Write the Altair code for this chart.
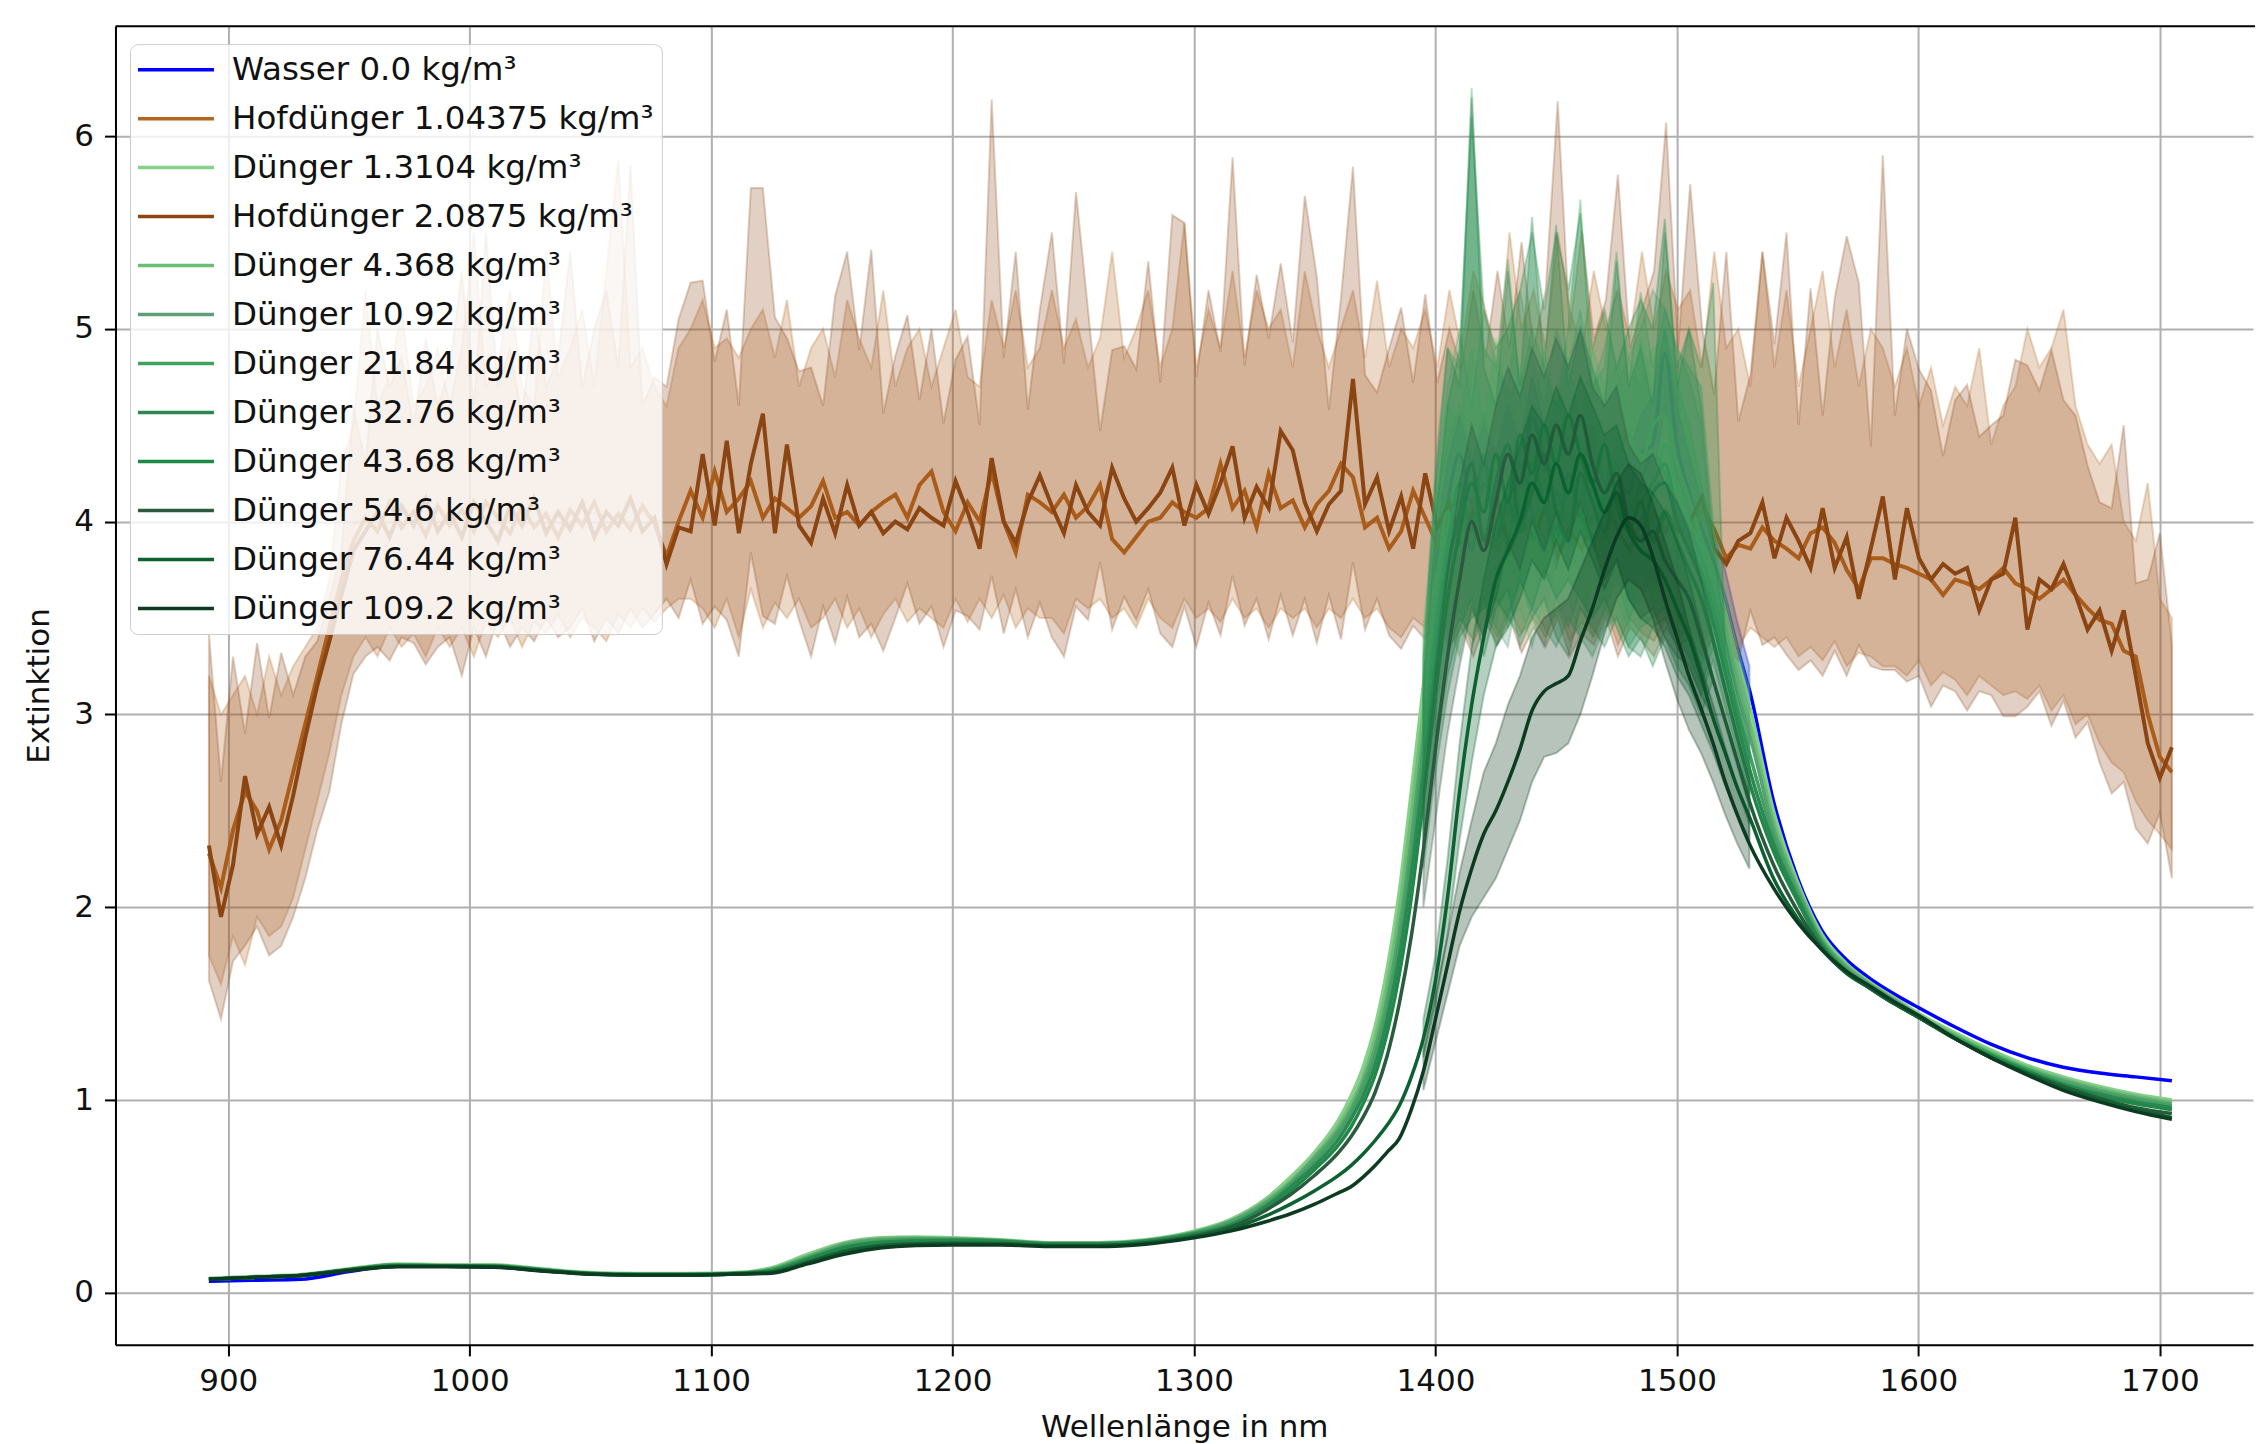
import altair as alt
import numpy as np
import pandas as pd

# ---------------- series names / colours ----------------
NAMES = [
    "Wasser 0.0 kg/m³", "Hofdünger 1.04375 kg/m³", "Dünger 1.3104 kg/m³",
    "Hofdünger 2.0875 kg/m³", "Dünger 4.368 kg/m³", "Dünger 10.92 kg/m³",
    "Dünger 21.84 kg/m³", "Dünger 32.76 kg/m³", "Dünger 43.68 kg/m³",
    "Dünger 54.6 kg/m³", "Dünger 76.44 kg/m³", "Dünger 109.2 kg/m³",
]
COLORS = [
    "#0000ff", "#b5651d", "#86d08a", "#8b4513", "#6bbf73", "#5e9f78",
    "#3ea35f", "#2f8655", "#1f8a48", "#2b5a3e", "#0b6130", "#0c3b22",
]

# ---------------- Hofdünger (manure) spectra ----------------
WL_H = np.round(np.linspace(892, 1705, 164), 2)

H1_MEAN = [
    2.28, 2.1, 2.4, 2.6, 2.5, 2.3, 2.45, 2.7, 2.95, 3.2,
    3.45, 3.7, 3.9, 4.02, 3.95, 4.1, 3.97, 4.05, 3.93, 4.08,
    3.98, 4.06, 3.95, 4.1, 4.02, 3.94, 4.08, 3.97, 4.04, 3.92,
    4.06, 3.98, 4.1, 3.95, 4.04, 3.96, 4.08, 3.99, 3.82, 4.0,
    4.16, 4.02, 4.26, 4.05, 4.12, 4.21, 4.02, 4.12, 4.07, 4.02,
    4.08, 4.21, 4.02, 4.05, 3.98, 4.05, 4.1, 4.14, 4.02, 4.19,
    4.26, 4.05, 3.95, 4.1, 4.0, 4.26, 4.0, 3.84, 4.14, 4.1,
    4.05, 4.14, 4.02, 4.08, 4.19, 3.91, 3.84, 3.92, 4.0, 4.02,
    4.1, 4.05, 4.02, 4.07, 4.3, 4.07, 4.16, 3.97, 4.25, 4.07,
    4.11, 3.97, 4.09, 4.16, 4.3, 4.23, 3.97, 4.02, 3.86, 3.95,
    4.16, 4.02, 3.88, 4.05, 3.95, 4.1, 3.92, 3.85, 4.06, 3.95,
    4.02, 3.9, 4.08, 3.96, 3.86, 4.04, 3.92, 4.1, 3.98, 3.9,
    4.05, 3.95, 4.08, 3.9, 4.07, 3.96, 3.81, 3.88, 3.86, 3.97,
    3.9, 3.86, 3.81, 3.94, 3.97, 3.89, 3.75, 3.65, 3.81, 3.81,
    3.78, 3.76, 3.73, 3.7, 3.62, 3.7, 3.68, 3.65, 3.7, 3.76,
    3.68, 3.65, 3.6, 3.65, 3.7, 3.62, 3.55, 3.49, 3.47, 3.33,
    3.3, 3.0, 2.78, 2.7,
]
H1_UP = [
    3.2, 3.0, 3.1, 3.2, 3.0, 3.3, 3.1, 3.25, 3.35, 3.45,
    3.7, 4.3, 4.5, 5.2, 4.6, 4.75, 5.1, 4.6, 4.7, 4.9,
    4.6, 4.9, 5.5, 4.7, 4.8, 5.2, 4.7, 4.6, 5.4, 4.75,
    4.9, 5.1, 4.7, 5.3, 5.88, 4.8, 4.9, 4.7, 4.6, 4.9,
    5.0, 5.15, 4.9, 4.95, 4.85, 5.0, 5.1, 4.85, 5.15, 4.7,
    4.9, 5.0, 4.75, 5.15, 4.95, 4.8, 5.2, 4.7, 4.9, 5.0,
    4.7, 4.9, 5.1, 4.75, 4.7, 5.15, 4.9, 5.2, 4.8, 4.9,
    5.2, 4.9, 5.05, 4.8, 4.95, 5.4, 4.85, 5.0, 5.2, 4.8,
    5.0, 5.55, 4.8, 5.1, 4.9, 5.3, 4.85, 5.2, 5.0, 5.1,
    4.8, 5.3, 5.0, 4.8, 5.0, 5.2, 4.85, 5.25, 4.8, 5.0,
    4.9, 5.1, 4.8, 5.2, 4.9, 5.3, 5.1, 4.8, 5.5, 5.0,
    5.2, 4.9, 5.5, 5.1, 4.9, 5.3, 5.0, 5.2, 4.95, 5.4,
    5.0, 5.3, 5.1, 5.2, 4.8, 5.4, 4.9, 5.0, 4.7, 5.4,
    4.8, 5.2, 4.7, 5.0, 5.3, 4.8, 5.1, 4.7, 5.0, 4.9,
    4.7, 4.9, 4.6, 4.8, 4.5, 4.7, 4.6, 4.9, 4.4, 4.6,
    4.7, 5.0, 4.8, 4.9, 5.1, 4.6, 4.4, 4.3, 4.4, 4.0,
    3.9, 4.2, 3.6, 3.5,
]
H1_LO = [
    1.75, 1.6, 1.85, 1.7, 1.95, 1.85, 1.9, 2.05, 2.3, 2.55,
    2.8, 3.1, 3.3, 3.4, 3.3, 3.45, 3.35, 3.42, 3.3, 3.45,
    3.35, 3.45, 3.3, 3.48, 3.4, 3.5, 3.35, 3.48, 3.42, 3.52,
    3.4, 3.5, 3.45, 3.38, 3.52, 3.45, 3.55, 3.48, 3.55, 3.6,
    3.6, 3.55, 3.45, 3.6, 3.4, 3.65, 3.45, 3.58, 3.5, 3.6,
    3.45, 3.5, 3.6, 3.45, 3.55, 3.4, 3.52, 3.6, 3.48, 3.55,
    3.5, 3.45, 3.6, 3.48, 3.6, 3.5, 3.62, 3.45, 3.55, 3.5,
    3.5, 3.42, 3.6, 3.55, 3.6, 3.5, 3.55, 3.45, 3.6, 3.5,
    3.45, 3.6, 3.5, 3.55, 3.48, 3.6, 3.5, 3.55, 3.45, 3.55,
    3.5, 3.55, 3.45, 3.55, 3.5, 3.6, 3.5, 3.55, 3.45, 3.4,
    3.5, 3.45, 3.55, 3.4, 3.5, 3.38, 3.52, 3.4, 3.55, 3.42,
    3.5, 3.4, 3.55, 3.38, 3.48, 3.4, 3.55, 3.36, 3.5, 3.42,
    3.38, 3.5, 3.4, 3.45, 3.35, 3.48, 3.4, 3.35, 3.45, 3.4,
    3.35, 3.4, 3.3, 3.35, 3.28, 3.38, 3.25, 3.32, 3.3, 3.25,
    3.25, 3.2, 3.28, 3.15, 3.22, 3.18, 3.1, 3.2, 3.15, 3.1,
    3.12, 3.08, 3.15, 3.02, 3.1, 2.95, 3.0, 2.85, 2.75, 2.7,
    2.55, 2.45, 2.38, 2.3,
]
H2_MEAN = [
    2.32, 1.95, 2.22, 2.68, 2.38, 2.52, 2.32, 2.58, 2.88, 3.15,
    3.38, 3.62, 3.85, 3.95, 4.05, 3.92, 4.08, 3.98, 4.12, 3.95,
    4.05, 3.92, 4.1, 4.0, 3.9, 4.08, 3.98, 4.12, 3.94, 4.05,
    3.96, 4.1, 3.92, 4.05, 3.98, 4.12, 3.95, 4.02, 3.78, 3.97,
    3.95, 4.35, 3.98, 4.42, 3.94, 4.3, 4.56, 3.94, 4.4, 3.98,
    3.89, 4.12, 3.94, 4.19, 3.98, 4.05, 3.94, 4.0, 3.96, 4.07,
    4.02, 3.98, 4.21, 4.05, 3.86, 4.33, 4.0, 3.89, 4.1, 4.24,
    4.08, 3.94, 4.19, 4.05, 3.98, 4.28, 4.12, 4.0, 4.07, 4.15,
    4.28, 3.98, 4.19, 4.04, 4.2, 4.39, 4.02, 4.18, 4.07, 4.47,
    4.37, 4.1, 3.95, 4.09, 4.16, 4.74, 4.09, 4.23, 3.95, 4.13,
    3.86, 4.25, 3.97, 4.1, 3.88, 4.05, 3.9, 4.12, 3.85, 4.0,
    3.92, 4.08, 3.82, 3.98, 4.05, 3.88, 4.1, 3.95, 3.85, 4.02,
    3.9, 4.05, 3.95, 4.0, 4.13, 3.86, 3.78, 3.9, 3.94, 4.1,
    3.81, 4.02, 3.9, 3.76, 4.07, 3.76, 3.92, 3.6, 3.86, 4.13,
    3.7, 4.07, 3.81, 3.7, 3.78, 3.73, 3.76, 3.54, 3.7, 3.73,
    4.02, 3.44, 3.7, 3.65, 3.78, 3.62, 3.44, 3.54, 3.33, 3.54,
    3.2, 2.85, 2.67, 2.83,
]
H2_UP = [
    3.42, 2.65, 3.3, 2.9, 3.37, 2.98, 3.32, 3.1, 3.3, 3.38,
    3.6, 3.85, 4.6, 4.3, 5.0, 4.7, 4.85, 4.5, 4.95, 4.6,
    4.8, 5.3, 4.6, 5.5, 4.7, 4.9, 4.55, 5.1, 4.7, 4.85,
    5.4, 4.7, 5.0, 5.2, 4.8, 5.85, 4.6, 4.75, 4.7, 5.05,
    5.24, 5.25, 4.83, 5.1, 4.6, 5.73, 5.73, 5.06, 4.95, 4.78,
    4.8, 4.6, 5.17, 5.4, 4.89, 5.41, 4.56, 4.86, 5.07, 4.63,
    5.0, 4.51, 4.84, 4.96, 4.5, 6.19, 4.85, 5.4, 4.58, 5.1,
    5.5, 4.82, 5.71, 5.1, 4.47, 4.89, 4.91, 4.79, 5.35, 4.72,
    5.59, 5.55, 4.75, 5.2, 4.88, 5.89, 4.81, 5.28, 4.95, 5.34,
    4.93, 5.69, 5.27, 4.58, 5.16, 5.84, 4.76, 4.67, 4.9, 5.11,
    4.72, 5.18, 4.72, 5.0, 4.8, 5.2, 4.85, 5.3, 4.9, 5.45,
    4.9, 5.2, 6.18, 5.0, 5.51, 4.95, 5.15, 5.8, 4.9, 5.1,
    5.3, 6.07, 4.9, 5.75, 5.0, 4.66, 5.4, 4.52, 4.76, 5.4,
    4.92, 5.5, 4.5, 5.21, 4.55, 5.16, 5.48, 5.24, 4.39, 5.9,
    4.55, 5.0, 4.79, 4.68, 4.34, 4.63, 4.71, 4.44, 4.5, 4.55,
    4.84, 4.81, 4.68, 4.89, 4.63, 4.55, 4.29, 4.1, 4.07, 4.5,
    3.68, 3.7, 3.94, 3.36,
]
H2_LO = [
    1.62, 1.42, 1.72, 1.8, 1.9, 1.75, 1.8, 1.95, 2.15, 2.4,
    2.6, 2.95, 3.21, 3.3, 3.35, 3.28, 3.4, 3.37, 3.26, 3.35,
    3.4, 3.2, 3.45, 3.3, 3.5, 3.35, 3.45, 3.38, 3.5, 3.4,
    3.45, 3.55, 3.38, 3.5, 3.42, 3.55, 3.45, 3.52, 3.6, 3.5,
    3.7, 3.47, 3.56, 3.49, 3.3, 3.84, 3.51, 3.47, 3.72, 3.49,
    3.3, 3.56, 3.37, 3.61, 3.4, 3.47, 3.33, 3.5, 3.68, 3.47,
    3.56, 3.35, 3.54, 3.51, 3.44, 3.72, 3.42, 3.65, 3.4, 3.58,
    3.4, 3.3, 3.56, 3.49, 3.79, 3.44, 3.61, 3.49, 3.65, 3.42,
    3.35, 3.56, 3.35, 3.58, 3.41, 3.72, 3.46, 3.6, 3.39, 3.62,
    3.41, 3.6, 3.37, 3.62, 3.39, 3.79, 3.44, 3.6, 3.41, 3.34,
    3.46, 3.39, 3.5, 3.35, 3.45, 3.3, 3.48, 3.36, 3.5, 3.32,
    3.45, 3.35, 3.5, 3.3, 3.42, 3.36, 3.5, 3.3, 3.45, 3.38,
    3.3, 3.45, 3.35, 3.4, 3.3, 3.42, 3.36, 3.28, 3.54, 3.36,
    3.4, 3.31, 3.23, 3.28, 3.2, 3.33, 3.2, 3.36, 3.25, 3.23,
    3.23, 3.17, 3.2, 3.04, 3.15, 3.12, 3.02, 3.12, 3.1, 2.99,
    2.99, 3.04, 3.12, 2.94, 3.07, 2.88, 2.96, 2.75, 2.59, 2.65,
    2.41, 2.33, 2.49, 2.15,
]

# ---------------- Water / Dünger (fertiliser) spectra ----------------
G_WL = [892, 910, 930, 950, 970, 990, 1010, 1030, 1050, 1070, 1090, 1110,
        1125, 1140, 1155, 1170, 1185, 1200, 1220, 1240, 1260, 1280, 1300,
        1315, 1330, 1340, 1350, 1360, 1365, 1370, 1375, 1380, 1385, 1390,
        1395, 1400, 1405, 1410, 1415, 1420, 1425, 1430, 1435, 1440, 1445,
        1450, 1455, 1460, 1465, 1470, 1475, 1480, 1485, 1490, 1495, 1500,
        1505, 1510, 1515, 1520, 1525, 1530, 1540, 1550, 1560, 1570, 1580,
        1590, 1600, 1615, 1630, 1645, 1660, 1675, 1690, 1705]

WASSER = [0.06, 0.065, 0.07, 0.11, 0.14, 0.14, 0.135, 0.115, 0.1, 0.095, 0.095, 0.1,
          0.115, 0.17, 0.23, 0.26, 0.27, 0.27, 0.265, 0.255, 0.255, 0.27, 0.31,
          0.37, 0.47, 0.58, 0.7, 0.86, 0.97, 1.1, 1.3, 1.57, 1.94, 2.42, 2.98, 3.7,
          4.1, 4.35, 4.1, 4.3, 4.15, 4.4, 4.2, 4.54, 4.3, 3.96, 4.25, 4.1, 4.3, 4.0,
          4.2, 4.15, 4.35, 4.4, 4.87, 4.4, 4.15,
          3.97, 3.8, 3.6, 3.35, 3.13,
          2.55, 2.15, 1.88, 1.73, 1.63, 1.55, 1.48, 1.38, 1.29, 1.22, 1.17, 1.14, 1.12, 1.1]
D1 = [0.075, 0.085, 0.095, 0.125, 0.15, 0.145, 0.145, 0.125, 0.105, 0.1, 0.1, 0.105,
      0.13, 0.2, 0.26, 0.285, 0.29, 0.285, 0.275, 0.26, 0.26, 0.275, 0.32,
      0.38, 0.49, 0.6, 0.73, 0.9, 1.02, 1.17, 1.38, 1.68, 2.08, 2.6, 3.15, 3.7,
      3.95, 4.2, 3.9, 4.15, 3.85, 4.25, 4.05, 4.3, 3.95, 4.2, 4.35, 4.1, 4.25, 4.0,
      4.3, 4.45, 4.3, 4.5, 4.55, 4.3, 4.12,
      3.92, 3.75, 3.53, 3.28, 3.05,
      2.5, 2.13, 1.86, 1.71, 1.61, 1.53, 1.45, 1.35, 1.26, 1.18, 1.12, 1.07, 1.03, 1.0]
D4 = [0.07, 0.08, 0.09, 0.12, 0.145, 0.14, 0.14, 0.12, 0.1, 0.095, 0.095, 0.1,
      0.125, 0.19, 0.255, 0.28, 0.285, 0.28, 0.272, 0.258, 0.258, 0.272, 0.315,
      0.37, 0.48, 0.58, 0.71, 0.87, 0.98, 1.12, 1.32, 1.6, 1.98, 2.48, 3.02, 3.6,
      4.05, 3.85, 4.2, 3.95, 4.3, 4.0, 4.15, 3.9, 4.25, 4.05, 4.2, 3.95, 4.3, 4.1,
      4.2, 4.0, 4.35, 4.15, 4.4, 4.2, 4.0,
      3.88, 3.68, 3.45, 3.2, 2.97,
      2.45, 2.11, 1.84, 1.7, 1.6, 1.52, 1.44, 1.34, 1.25, 1.17, 1.11, 1.06, 1.02, 0.99]
D10 = [0.07, 0.08, 0.09, 0.12, 0.145, 0.14, 0.14, 0.12, 0.1, 0.095, 0.095, 0.1,
       0.12, 0.185, 0.25, 0.275, 0.28, 0.278, 0.27, 0.256, 0.256, 0.27, 0.312,
       0.37, 0.47, 0.57, 0.7, 0.85, 0.95, 1.09, 1.27, 1.53, 1.88, 2.35, 2.9, 3.45,
       3.9, 4.1, 3.85, 4.2, 4.0, 3.9, 4.3, 4.05, 3.85, 4.15, 4.0, 4.25, 3.9, 4.1,
       4.3, 4.05, 4.2, 4.35, 4.25, 4.1, 3.95,
       3.82, 3.62, 3.38, 3.12, 2.9,
       2.41, 2.09, 1.83, 1.69, 1.6, 1.52, 1.44, 1.33, 1.24, 1.16, 1.1, 1.05, 1.01, 0.98]
D21 = [0.07, 0.08, 0.09, 0.12, 0.145, 0.14, 0.14, 0.12, 0.1, 0.095, 0.095, 0.1,
       0.12, 0.18, 0.24, 0.268, 0.276, 0.276, 0.27, 0.255, 0.255, 0.27, 0.31,
       0.36, 0.46, 0.56, 0.68, 0.83, 0.93, 1.06, 1.23, 1.48, 1.82, 2.27, 2.82, 3.38,
       3.85, 4.2, 3.95, 4.35, 3.9, 4.1, 3.95, 4.3, 4.1, 3.9, 4.2, 4.05, 3.9, 4.15,
       4.25, 3.95, 4.1, 4.2, 4.3, 4.05, 3.9,
       3.75, 3.55, 3.3, 3.03, 2.8,
       2.37, 2.07, 1.82, 1.68, 1.59, 1.51, 1.43, 1.33, 1.24, 1.16, 1.09, 1.04, 1.0, 0.97]
D32 = [0.07, 0.08, 0.09, 0.12, 0.14, 0.14, 0.138, 0.118, 0.1, 0.095, 0.095, 0.1,
       0.115, 0.175, 0.235, 0.262, 0.27, 0.272, 0.268, 0.254, 0.254, 0.268, 0.305,
       0.35, 0.45, 0.55, 0.66, 0.8, 0.9, 1.02, 1.18, 1.42, 1.74, 2.17, 2.7, 3.25,
       3.75, 4.05, 4.3, 3.9, 4.2, 4.4, 4.0, 4.15, 4.35, 4.05, 3.9, 4.25, 4.1, 3.95,
       4.2, 4.0, 3.9, 4.15, 4.2, 4.0, 3.85,
       3.7, 3.48, 3.22, 2.96, 2.72,
       2.33, 2.05, 1.81, 1.67, 1.58, 1.5, 1.43, 1.32, 1.23, 1.15, 1.08, 1.03, 0.99, 0.96]
D43 = [0.07, 0.08, 0.09, 0.12, 0.14, 0.14, 0.138, 0.118, 0.1, 0.095, 0.095, 0.1,
       0.112, 0.17, 0.23, 0.258, 0.266, 0.268, 0.265, 0.252, 0.252, 0.266, 0.3,
       0.35, 0.44, 0.53, 0.64, 0.77, 0.86, 0.98, 1.13, 1.35, 1.65, 2.05, 2.56, 3.1,
       3.6, 3.95, 4.2, 4.05, 4.35, 4.1, 4.45, 4.25, 4.5, 4.3, 4.55, 4.35, 4.2, 4.4,
       4.1, 3.95, 4.1, 3.9, 4.05, 3.9, 3.75,
       3.6, 3.38, 3.13, 2.88, 2.65,
       2.29, 2.03, 1.8, 1.67, 1.58, 1.5, 1.43, 1.32, 1.23, 1.15, 1.08, 1.02, 0.98, 0.95]
D54 = [0.07, 0.08, 0.09, 0.118, 0.138, 0.138, 0.135, 0.115, 0.098, 0.093, 0.093, 0.098,
       0.108, 0.16, 0.215, 0.245, 0.255, 0.258, 0.256, 0.246, 0.246, 0.26, 0.295,
       0.34, 0.43, 0.51, 0.61, 0.73, 0.81, 0.91, 1.04, 1.23, 1.5, 1.85, 2.3, 2.82,
       3.3, 3.7, 4.0, 3.85, 4.1, 4.35, 4.2, 4.45, 4.3, 4.5, 4.35, 4.55, 4.3, 4.15,
       4.25, 4.0, 3.9, 3.95, 3.8, 3.7, 3.6,
       3.4, 3.18, 2.97, 2.76, 2.55,
       2.22, 1.98, 1.79, 1.66, 1.58, 1.5, 1.43, 1.32, 1.22, 1.14, 1.07, 1.01, 0.96, 0.93]
D76 = [0.07, 0.08, 0.09, 0.118, 0.138, 0.138, 0.135, 0.115, 0.098, 0.093, 0.093, 0.098,
       0.105, 0.155, 0.21, 0.24, 0.25, 0.253, 0.252, 0.244, 0.244, 0.256, 0.29,
       0.33, 0.4, 0.46, 0.53, 0.61, 0.66, 0.72, 0.79, 0.87, 0.97, 1.12, 1.32, 1.62,
       2.05, 2.6, 3.05, 3.4, 3.7, 3.85, 4.0, 4.2, 4.1, 4.3, 4.15, 4.35, 4.2, 4.05,
       4.15, 3.95, 3.85, 3.8, 3.7, 3.55, 3.4,
       3.2, 2.98, 2.8, 2.62, 2.47,
       2.15, 1.94, 1.78, 1.66, 1.58, 1.5, 1.43, 1.32, 1.22, 1.14, 1.06, 1.0, 0.95, 0.91]
D109 = [0.07, 0.08, 0.09, 0.115, 0.135, 0.135, 0.132, 0.113, 0.096, 0.092, 0.092, 0.097,
        0.102, 0.15, 0.2, 0.232, 0.245, 0.248, 0.248, 0.24, 0.24, 0.252, 0.285,
        0.32, 0.37, 0.41, 0.46, 0.52, 0.55, 0.6, 0.66, 0.73, 0.8, 0.95, 1.15, 1.42,
        1.7, 1.98, 2.2, 2.38, 2.5, 2.65, 2.82, 3.02, 3.12, 3.16, 3.2, 3.38, 3.55, 3.75,
        3.92, 4.02, 3.98, 3.82, 3.6, 3.4, 3.2,
        3.03, 2.85, 2.65, 2.48, 2.33,
        2.1, 1.92, 1.78, 1.67, 1.59, 1.51, 1.44, 1.32, 1.22, 1.13, 1.05, 0.99, 0.94, 0.9]

# spread bands of the water / fertiliser series (1395 .. 1530 nm)
B_WL = G_WL[34:62]
WASSER_UP = [3.15, 3.9, 4.3, 4.55, 4.3, 4.5, 4.35, 4.6, 4.4, 4.75, 4.5, 4.2, 4.45, 4.3,
             4.5, 4.2, 4.4, 4.35, 4.55, 4.65, 5.0, 4.6, 4.35, 4.12, 3.95, 3.75, 3.48, 3.25]
WASSER_LO = [2.8, 3.5, 3.9, 4.15, 3.9, 4.1, 3.95, 4.2, 4.0, 4.3, 4.1, 3.75, 4.05, 3.9,
             4.1, 3.8, 4.0, 3.95, 4.15, 4.2, 4.6, 4.2, 3.95, 3.8, 3.65, 3.45, 3.22, 3.02]
D1_UP = [3.45, 4.1, 4.4, 4.6, 4.35, 4.55, 4.3, 4.7, 4.45, 4.75, 4.4, 4.6, 4.8, 4.5,
         4.7, 4.45, 4.7, 4.85, 4.7, 4.9, 4.95, 4.7, 4.5, 4.2, 3.95, 3.7, 3.43, 3.18]
D1_LO = [2.85, 3.3, 3.55, 3.8, 3.5, 3.75, 3.45, 3.8, 3.65, 3.85, 3.5, 3.8, 3.9, 3.7,
         3.8, 3.6, 3.9, 4.0, 3.9, 4.1, 4.15, 3.9, 3.75, 3.6, 3.55, 3.35, 3.12, 2.92]
D4_UP = [3.4, 4.1, 4.6, 4.5, 4.9, 4.5, 4.95, 4.6, 4.8, 4.5, 4.9, 4.6, 4.85, 4.5,
         4.9, 4.7, 4.8, 4.55, 4.95, 4.7, 5.0, 4.75, 4.5, 4.2, 3.88, 3.62, 3.35, 3.1]
D4_LO = [2.65, 3.1, 3.5, 3.3, 3.6, 3.4, 3.65, 3.45, 3.55, 3.35, 3.6, 3.5, 3.6, 3.4,
         3.7, 3.5, 3.6, 3.45, 3.75, 3.6, 3.8, 3.65, 3.5, 3.4, 3.48, 3.28, 3.05, 2.84]
D10_UP = [3.3, 4.2, 4.7, 5.0, 4.6, 5.1, 4.8, 4.7, 5.2, 4.85, 4.6, 5.0, 4.8, 5.1,
          4.7, 4.9, 5.2, 4.85, 5.0, 5.2, 5.1, 4.9, 4.75, 4.5, 3.85, 3.56, 3.28, 3.03]
D10_LO = [2.5, 3.0, 3.4, 3.55, 3.35, 3.6, 3.45, 3.35, 3.7, 3.5, 3.35, 3.6, 3.45, 3.65,
          3.4, 3.55, 3.7, 3.5, 3.6, 3.7, 3.65, 3.5, 3.4, 3.25, 3.4, 3.2, 2.97, 2.77]
D21_UP = [3.3, 4.3, 4.9, 4.8, 6.25, 4.9, 4.8, 5.36, 4.7, 5.0, 4.8, 4.6, 5.0, 5.67,
          4.7, 4.8, 5.4, 4.7, 5.19, 4.8, 5.1, 4.9, 4.8, 4.7, 4.0, 3.48, 3.18, 2.93]
D21_LO = [2.4, 2.9, 3.3, 3.5, 3.4, 3.6, 3.35, 3.5, 3.4, 3.55, 3.45, 3.35, 3.5, 3.4,
          3.3, 3.45, 3.5, 3.35, 3.45, 3.5, 3.55, 3.4, 3.3, 3.15, 3.35, 3.12, 2.88, 2.67]
D32_UP = [3.2, 4.2, 4.9, 4.7, 6.2, 4.8, 4.6, 5.3, 4.7, 5.58, 4.8, 5.54, 4.7, 5.0,
          4.8, 4.6, 5.35, 4.7, 4.9, 4.6, 5.5, 4.8, 5.0, 4.6, 3.9, 3.4, 3.1, 2.85]
D32_LO = [2.3, 2.8, 3.2, 3.45, 3.6, 3.3, 3.55, 3.65, 3.35, 3.5, 3.6, 3.4, 3.3, 3.55,
          3.45, 3.35, 3.5, 3.35, 3.3, 3.45, 3.5, 3.35, 3.25, 3.1, 3.28, 3.04, 2.81, 2.59]
D43_UP = [3.1, 4.0, 4.6, 4.9, 6.1, 5.1, 4.9, 5.0, 5.2, 5.5, 5.1, 5.5, 5.2, 5.6,
          4.9, 5.1, 4.8, 5.0, 5.15, 5.0, 5.57, 4.7, 5.0, 4.8, 5.24, 3.3, 3.03, 2.78]
D43_LO = [2.2, 2.7, 3.1, 3.4, 3.5, 3.55, 3.6, 3.5, 3.7, 3.55, 3.75, 3.6, 3.7, 3.6,
          3.5, 3.6, 3.45, 3.3, 3.4, 3.25, 3.4, 3.25, 3.15, 3.0, 3.18, 2.95, 2.73, 2.52]
D54_UP = [2.6, 3.2, 3.75, 4.2, 4.5, 4.3, 4.6, 4.8, 4.65, 4.9, 4.75, 4.95, 4.8, 5.0,
          4.7, 4.6, 4.7, 4.4, 4.3, 4.35, 4.2, 4.1, 3.95, 3.7, 3.4, 3.15, 2.9, 2.67]
D54_LO = [2.0, 2.45, 2.9, 3.25, 3.55, 3.4, 3.6, 3.9, 3.75, 4.0, 3.85, 4.05, 3.9, 4.1,
          3.9, 3.7, 3.8, 3.6, 3.5, 3.55, 3.4, 3.3, 3.25, 3.1, 2.98, 2.8, 2.62, 2.43]
D76_UP = [1.42, 1.75, 2.25, 2.85, 3.35, 3.7, 4.0, 4.2, 4.4, 4.6, 4.5, 4.7, 4.55, 4.75,
          4.6, 4.45, 4.5, 4.3, 4.2, 4.15, 4.05, 3.9, 3.7, 3.45, 3.18, 2.97, 2.77, 2.6]
D76_LO = [1.22, 1.5, 1.85, 2.35, 2.75, 3.1, 3.35, 3.45, 3.6, 3.8, 3.7, 3.9, 3.75, 3.95,
          3.8, 3.65, 3.8, 3.6, 3.5, 3.45, 3.35, 3.2, 3.1, 2.95, 2.8, 2.63, 2.48, 2.35]
D109_UP = [1.25, 1.55, 1.85, 2.18, 2.45, 2.7, 2.85, 3.05, 3.2, 3.4, 3.5, 3.55, 3.6, 3.75,
           3.9, 4.05, 4.2, 4.3, 4.25, 4.1, 3.9, 3.7, 3.45, 3.25, 3.05, 2.83, 2.63, 2.46]
D109_LO = [1.05, 1.3, 1.55, 1.8, 1.95, 2.05, 2.15, 2.3, 2.45, 2.65, 2.78, 2.8, 2.85, 3.0,
           3.2, 3.42, 3.6, 3.7, 3.65, 3.5, 3.28, 3.08, 2.92, 2.8, 2.65, 2.48, 2.33, 2.2]

X_TICKS = [900, 1000, 1100, 1200, 1300, 1400, 1500, 1600, 1700]
Y_TICKS = [0, 1, 2, 3, 4, 5, 6]

# (name, colour, wl, mean, band_wl, upper, lower, line interpolation, band opacity)
SERIES = [
    (NAMES[0], COLORS[0], G_WL, WASSER, B_WL, WASSER_UP, WASSER_LO, "monotone", 0.3),
    (NAMES[1], COLORS[1], list(WL_H), H1_MEAN, list(WL_H), H1_UP, H1_LO, "linear", 0.25),
    (NAMES[2], COLORS[2], G_WL, D1, B_WL, D1_UP, D1_LO, "monotone", 0.3),
    (NAMES[3], COLORS[3], list(WL_H), H2_MEAN, list(WL_H), H2_UP, H2_LO, "linear", 0.25),
    (NAMES[4], COLORS[4], G_WL, D4, B_WL, D4_UP, D4_LO, "monotone", 0.3),
    (NAMES[5], COLORS[5], G_WL, D10, B_WL, D10_UP, D10_LO, "monotone", 0.3),
    (NAMES[6], COLORS[6], G_WL, D21, B_WL, D21_UP, D21_LO, "monotone", 0.3),
    (NAMES[7], COLORS[7], G_WL, D32, B_WL, D32_UP, D32_LO, "monotone", 0.3),
    (NAMES[8], COLORS[8], G_WL, D43, B_WL, D43_UP, D43_LO, "monotone", 0.3),
    (NAMES[9], COLORS[9], G_WL, D54, B_WL, D54_UP, D54_LO, "monotone", 0.3),
    (NAMES[10], COLORS[10], G_WL, D76, B_WL, D76_UP, D76_LO, "monotone", 0.3),
    (NAMES[11], COLORS[11], G_WL, D109, B_WL, D109_UP, D109_LO, "monotone", 0.3),
]

for s in SERIES:
    assert len(s[2]) == len(s[3]), (s[0], "mean", len(s[2]), len(s[3]))
    assert len(s[4]) == len(s[5]) == len(s[6]), (s[0], "band", len(s[4]), len(s[5]), len(s[6]))

PLOT_W, PLOT_H = 2138, 1319

x_scale = alt.Scale(domain=[853.3, 1738.6], nice=False, zero=False)
y_scale = alt.Scale(domain=[-0.27, 6.57], nice=False, zero=False)
x_axis = alt.Axis(values=X_TICKS, title="Wellenlänge in nm", titlePadding=16,
                  labelPadding=11, labelFlush=False, labelOverlap=False, format="d")
y_axis = alt.Axis(values=Y_TICKS, title="Extinktion", titlePadding=18,
                  labelPadding=11, labelOverlap=False, format="d")
color_scale = alt.Scale(domain=NAMES, range=COLORS)
legend = alt.Legend(
    title=None, orient="none", legendX=14.5, legendY=18,
    symbolType="stroke", symbolSize=6084, symbolStrokeWidth=3.5, symbolOffset=-4,
    labelFontSize=32.5, labelFont="DejaVu Sans", labelColor="#111111",
    labelLimit=1000, labelOffset=16, clipHeight=35, rowPadding=14,
    padding=8, fillColor="rgba(255,255,255,0.8)", strokeColor="#cccccc",
    cornerRadius=8,
)

layers = []
for name, color, wl, mean, bwl, up, lo, interp, bop in SERIES:
    band_df = pd.DataFrame({"wl": bwl, "lo": lo, "up": up})
    area = alt.Chart(band_df).mark_area(
        color=color, fillOpacity=bop, stroke=color, strokeOpacity=bop,
        strokeWidth=2, interpolate="linear",
    ).encode(
        x=alt.X("wl:Q", scale=x_scale, axis=x_axis, title="Wellenlänge in nm"),
        y=alt.Y("lo:Q", scale=y_scale, axis=y_axis, title="Extinktion"),
        y2="up:Q",
    )
    line_df = pd.DataFrame({"wl": wl, "val": mean, "series": name})
    is_brown = name.startswith("Hof")
    line = alt.Chart(line_df).mark_line(
        strokeWidth=4 if is_brown else 3.5, interpolate=interp,
    ).encode(
        x=alt.X("wl:Q", scale=x_scale, axis=x_axis, title="Wellenlänge in nm"),
        y=alt.Y("val:Q", scale=y_scale, axis=y_axis, title="Extinktion"),
        color=alt.Color("series:N", scale=color_scale, legend=legend),
    )
    layers += [area, line]

# top spine of the axes frame (right spine lies outside the picture)
top_spine = alt.Chart(pd.DataFrame({"k": [0]})).mark_rule(
    color="black", strokeWidth=2
).encode(y=alt.value(0), x=alt.value(0), x2=alt.value(PLOT_W + 2))
layers.append(top_spine)

chart = alt.layer(*layers).properties(
    width=PLOT_W, height=PLOT_H,
    padding={"left": 107.5, "top": 18, "right": 2, "bottom": 98},
    autosize=alt.AutoSizeParams(type="none"),
).configure(
    font="DejaVu Sans",
).configure_view(
    strokeWidth=0,
).configure_axis(
    labelFontSize=31, titleFontSize=31, labelColor="#111111", titleColor="#111111",
    titleFontWeight="normal", labelFont="DejaVu Sans", titleFont="DejaVu Sans",
    grid=True, gridColor="#b0b0b0", gridWidth=2,
    domainColor="black", domainWidth=2, tickColor="black", tickWidth=2,
    tickSize=11,
)

chart.save("out.html", embed_options={"renderer": "svg", "actions": False})
